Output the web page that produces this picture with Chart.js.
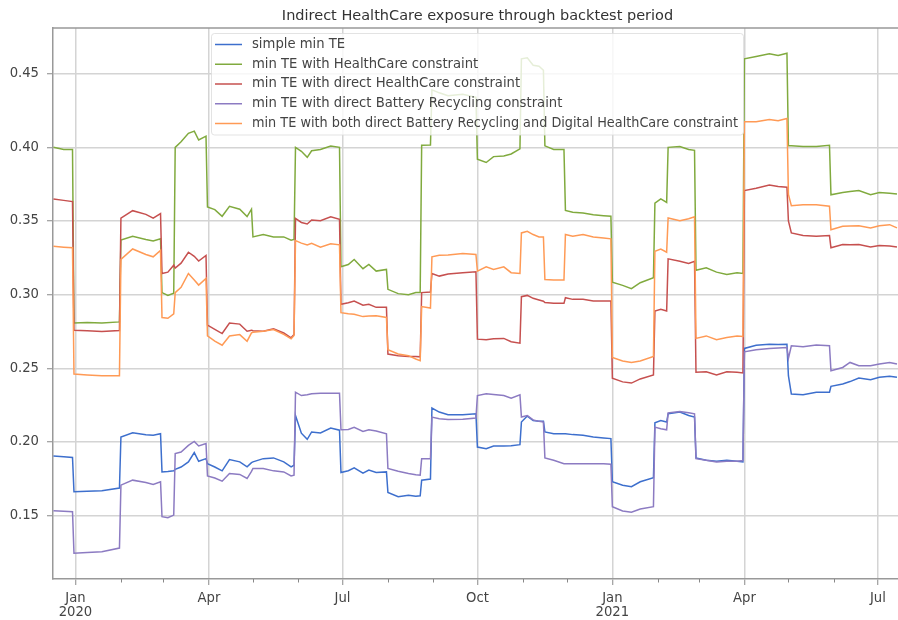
<!DOCTYPE html>
<html>
<head>
<meta charset="utf-8">
<script src="https://cdn.jsdelivr.net/npm/chart.js@4.4.1/dist/chart.umd.min.js"></script>
<style>
  html, body { margin: 0; padding: 0; background: #fff; }
  #wrap { width: 898px; height: 620px; }
</style>
</head>
<body>
<div id="wrap"><canvas id="exposure-chart" width="898" height="620"></canvas></div>
<script>
// days since 2020-01-01 (x values shared by all series)
const dayIndex = [
  -15, -8, -2,
  -1, 8, 18, 30,
  31, 39, 48, 53, 58,
  59, 63, 67,
  68, 72, 77, 81, 84, 89,
  90, 95, 100, 105, 112, 117, 120,
  121, 128, 135, 142, 147, 149,
  150, 154, 158, 161, 167, 174, 180,
  181, 186, 190, 196, 200, 205, 212,
  213, 220, 227, 232, 235,
  236, 242,
  243, 248, 254, 264, 273,
  274, 280, 285, 292, 297, 303,
  304, 308, 312, 316, 319,
  320, 326, 333,
  334, 339, 346, 353, 360, 365,
  366, 373, 379, 385, 394,
  395, 399, 403,
  404, 412, 418, 422,
  423, 430, 437, 444, 451, 455,
  456, 464, 473, 479, 485,
  486, 488, 496, 505, 514,
  515, 523, 528, 534, 542, 548, 555, 560
];

const simpleMinTE = [
  0.1905, 0.1900, 0.1895,
  0.1662, 0.1665, 0.1669, 0.1687,
  0.2034, 0.2063, 0.2049, 0.2045, 0.2056,
  0.1797, 0.1800, 0.1805,
  0.1814, 0.1830, 0.1865, 0.1928, 0.1869, 0.1887,
  0.1853, 0.1830, 0.1804, 0.1881, 0.1865, 0.1831, 0.1860,
  0.1865, 0.1887, 0.1892, 0.1865, 0.1831, 0.1842,
  0.2180, 0.2060, 0.2018, 0.2068, 0.2061, 0.2095, 0.2080,
  0.1793, 0.1805, 0.1824, 0.1788, 0.1810, 0.1793, 0.1797,
  0.1657, 0.1628, 0.1639, 0.1632, 0.1635,
  0.1741, 0.1748,
  0.2230, 0.2203, 0.2185, 0.2185, 0.2191,
  0.1966, 0.1955, 0.1973, 0.1973, 0.1975, 0.1982,
  0.2135, 0.2176, 0.2146, 0.2140, 0.2140,
  0.2068, 0.2056, 0.2056,
  0.2056, 0.2050, 0.2045, 0.2034, 0.2027, 0.2023,
  0.1730, 0.1707, 0.1696, 0.1730, 0.1757,
  0.2131, 0.2146, 0.2135,
  0.2191, 0.2203, 0.2180, 0.2169,
  0.1892, 0.1876, 0.1869, 0.1876, 0.1869, 0.1865,
  0.2635, 0.2657, 0.2664, 0.2662, 0.2664,
  0.2450, 0.2326, 0.2320, 0.2338, 0.2338,
  0.2378, 0.2394, 0.2410, 0.2434, 0.2423, 0.2439, 0.2446, 0.2439
];

const withHealthCare = [
  0.4000, 0.3985, 0.3985,
  0.2808, 0.2811, 0.2808, 0.2815,
  0.3370, 0.3397, 0.3375, 0.3365, 0.3380,
  0.3014, 0.2995, 0.3010,
  0.4000, 0.4038, 0.4095, 0.4110, 0.4050, 0.4076,
  0.3595, 0.3577, 0.3532, 0.3600, 0.3580, 0.3530, 0.3580,
  0.3392, 0.3408, 0.3392, 0.3392, 0.3370, 0.3375,
  0.4000, 0.3973, 0.3932, 0.3977, 0.3986, 0.4009, 0.4000,
  0.3189, 0.3205, 0.3239, 0.3176, 0.3205, 0.3160, 0.3171,
  0.3036, 0.3007, 0.2999, 0.3014, 0.3014,
  0.4014, 0.4016,
  0.4390, 0.4370, 0.4350, 0.4360, 0.4340,
  0.3919, 0.3897, 0.3937, 0.3941, 0.3955, 0.3990,
  0.4601, 0.4608, 0.4557, 0.4550, 0.4523,
  0.4010, 0.3986, 0.3986,
  0.3572, 0.3560, 0.3554, 0.3543, 0.3536, 0.3532,
  0.3085, 0.3063, 0.3041, 0.3081, 0.3115,
  0.3622, 0.3650, 0.3626,
  0.4000, 0.4005, 0.3986, 0.3980,
  0.3166, 0.3182, 0.3153, 0.3137, 0.3149, 0.3144,
  0.4601, 0.4617, 0.4635, 0.4624, 0.4639,
  0.4010, 0.4010, 0.4005, 0.4005, 0.4014,
  0.3678, 0.3693, 0.3700, 0.3707, 0.3678, 0.3693, 0.3689, 0.3684
];

const directHealthCare = [
  0.3649, 0.3640, 0.3632,
  0.2759, 0.2755, 0.2750, 0.2757,
  0.3520, 0.3570, 0.3545, 0.3520, 0.3550,
  0.3144, 0.3153, 0.3200,
  0.3180, 0.3214, 0.3288, 0.3260, 0.3228, 0.3266,
  0.2793, 0.2765, 0.2736, 0.2807, 0.2800, 0.2752, 0.2759,
  0.2755, 0.2752, 0.2768, 0.2740, 0.2707, 0.2730,
  0.3518, 0.3490, 0.3480, 0.3507, 0.3502, 0.3529, 0.3511,
  0.2935, 0.2945, 0.2957, 0.2928, 0.2935, 0.2914, 0.2914,
  0.2597, 0.2586, 0.2581, 0.2581, 0.2578,
  0.3014, 0.3018,
  0.3144, 0.3126, 0.3140, 0.3148, 0.3155,
  0.2698, 0.2694, 0.2700, 0.2703, 0.2680, 0.2671,
  0.2986, 0.2995, 0.2975, 0.2964, 0.2955,
  0.2946, 0.2941, 0.2941,
  0.2979, 0.2968, 0.2968, 0.2957, 0.2957, 0.2957,
  0.2433, 0.2408, 0.2400, 0.2428, 0.2455,
  0.2889, 0.2900, 0.2889,
  0.3243, 0.3227, 0.3212, 0.3227,
  0.2473, 0.2477, 0.2455, 0.2477, 0.2473, 0.2469,
  0.3707, 0.3722, 0.3745, 0.3734, 0.3729,
  0.3500, 0.3419, 0.3401, 0.3397, 0.3401,
  0.3318, 0.3340, 0.3338, 0.3340, 0.3324, 0.3333, 0.3330, 0.3324
];

const directBattery = [
  0.1534, 0.1530, 0.1527,
  0.1245, 0.1250, 0.1255, 0.1280,
  0.1707, 0.1741, 0.1725, 0.1712, 0.1730,
  0.1493, 0.1486, 0.1504,
  0.1921, 0.1932, 0.1977, 0.2004, 0.1973, 0.1990,
  0.1770, 0.1755, 0.1734, 0.1786, 0.1780, 0.1752, 0.1800,
  0.1820, 0.1820, 0.1804, 0.1797, 0.1770, 0.1775,
  0.2338, 0.2315, 0.2320, 0.2327, 0.2331, 0.2331, 0.2331,
  0.2083, 0.2085, 0.2100, 0.2072, 0.2083, 0.2075, 0.2056,
  0.1820, 0.1802, 0.1786, 0.1778, 0.1775,
  0.1887, 0.1887,
  0.2169, 0.2158, 0.2153, 0.2155, 0.2162,
  0.2315, 0.2327, 0.2322, 0.2315, 0.2297, 0.2320,
  0.2169, 0.2180, 0.2150, 0.2140, 0.2135,
  0.1892, 0.1876, 0.1853,
  0.1853, 0.1853, 0.1853, 0.1853, 0.1853, 0.1849,
  0.1561, 0.1532, 0.1523, 0.1545, 0.1561,
  0.2101, 0.2090, 0.2083,
  0.2198, 0.2207, 0.2198, 0.2191,
  0.1887, 0.1876, 0.1865, 0.1869, 0.1869, 0.1874,
  0.2612, 0.2626, 0.2635, 0.2638, 0.2641,
  0.2567, 0.2653, 0.2646, 0.2658, 0.2653,
  0.2484, 0.2506, 0.2540, 0.2517, 0.2517, 0.2529, 0.2540, 0.2529
];

const bothDirect = [
  0.3328, 0.3322, 0.3318,
  0.2461, 0.2455, 0.2450, 0.2450,
  0.3239, 0.3310, 0.3273, 0.3257, 0.3300,
  0.2845, 0.2840, 0.2870,
  0.3014, 0.3050, 0.3144, 0.3100, 0.3065, 0.3110,
  0.2720, 0.2685, 0.2657, 0.2720, 0.2729, 0.2684, 0.2741,
  0.2745, 0.2752, 0.2763, 0.2730, 0.2700, 0.2723,
  0.3367, 0.3350, 0.3338, 0.3349, 0.3322, 0.3345, 0.3338,
  0.2878, 0.2870, 0.2867, 0.2851, 0.2855, 0.2856, 0.2845,
  0.2626, 0.2597, 0.2586, 0.2563, 0.2552,
  0.2919, 0.2909,
  0.3257, 0.3268, 0.3270, 0.3279, 0.3273,
  0.3160, 0.3189, 0.3171, 0.3189, 0.3149, 0.3144,
  0.3419, 0.3430, 0.3408, 0.3392, 0.3392,
  0.3103, 0.3099, 0.3099,
  0.3408, 0.3397, 0.3408, 0.3392, 0.3385, 0.3379,
  0.2574, 0.2550, 0.2539, 0.2550, 0.2581,
  0.3295, 0.3310, 0.3288,
  0.3520, 0.3502, 0.3515, 0.3529,
  0.2703, 0.2720, 0.2694, 0.2709, 0.2720, 0.2716,
  0.4173, 0.4173, 0.4189, 0.4180, 0.4196,
  0.3680, 0.3604, 0.3611, 0.3611, 0.3600,
  0.3441, 0.3464, 0.3466, 0.3468, 0.3453, 0.3468, 0.3475, 0.3453
];

const seriesNames = [
  'simple min TE',
  'min TE with HealthCare constraint',
  'min TE with direct HealthCare constraint',
  'min TE with direct Battery Recycling constraint',
  'min TE with both direct Battery Recycling and Digital HealthCare constraint'
];
const seriesColors = ['#3d6fcd', '#80aa3e', '#c6504f', '#8c7bc2', '#ff9a55'];
const yTicks = [0.15, 0.20, 0.25, 0.30, 0.35, 0.40, 0.45];
const monthNames = ['Jan', 'Feb', 'Mar', 'Apr', 'May', 'Jun', 'Jul', 'Aug', 'Sep', 'Oct', 'Nov', 'Dec'];
const chartTitle = 'Indirect HealthCare exposure through backtest period';

const DAY = 86400000;
const BASE = Date.UTC(2020, 0, 1);
const dateOf = (d) => new Date(BASE + d * DAY);

Chart.defaults.font.family = 'DejaVu Sans';
Chart.defaults.font.size = 13;
Chart.defaults.color = '#444';

const allSeries = [simpleMinTE, withHealthCare, directHealthCare, directBattery, bothDirect];

const framePlugin = {
  id: 'frame',
  afterDatasetsDraw(chart) {
    const ctx = chart.ctx;
    const area = chart.chartArea;
    const xs = chart.scales.x;

    // minor month ticks
    ctx.save();
    ctx.strokeStyle = '#888';
    ctx.lineWidth = 1;
    xs.ticks.forEach(t => {
      if (t.major) return;
      const px = Math.round(xs.getPixelForValue(t.value)) + 0.5;
      ctx.beginPath();
      ctx.moveTo(px, area.bottom);
      ctx.lineTo(px, area.bottom + 3.5);
      ctx.stroke();
    });

    // top spine
    ctx.strokeStyle = '#999';
    ctx.lineWidth = 1.5;
    ctx.beginPath();
    ctx.moveTo(area.left, area.top);
    ctx.lineTo(area.right, area.top);
    ctx.stroke();

    // legend box
    const bx = 211.5, by = 33.5, bw = 532, bh = 101.5;
    ctx.fillStyle = 'rgba(255,255,255,0.8)';
    ctx.strokeStyle = 'rgba(220,220,220,0.8)';
    ctx.lineWidth = 1;
    ctx.beginPath();
    ctx.roundRect(bx, by, bw, bh, 3);
    ctx.fill();
    ctx.stroke();

    ctx.font = '13.2px "DejaVu Sans"';
    ctx.textBaseline = 'middle';
    ctx.textAlign = 'left';
    seriesNames.forEach((name, i) => {
      const yy = 44.5 + i * 19.75;
      ctx.strokeStyle = seriesColors[i];
      ctx.lineWidth = 1.5;
      ctx.beginPath();
      ctx.moveTo(215, yy);
      ctx.lineTo(242, yy);
      ctx.stroke();
      ctx.fillStyle = '#444';
      ctx.fillText(name, 252, yy, 486);
    });
    ctx.restore();
  },
  afterDraw(chart) {
    const ctx = chart.ctx;
    const area = chart.chartArea;
    ctx.save();
    ctx.font = '14.5px "DejaVu Sans"';
    ctx.fillStyle = '#333';
    ctx.textAlign = 'center';
    ctx.textBaseline = 'middle';
    ctx.fillText(chartTitle, (area.left + area.right) / 2 + 2, 16);
    ctx.restore();
  }
};

const chart = new Chart(document.getElementById('exposure-chart'), {
  type: 'line',
  data: {
    datasets: allSeries.map((vals, i) => ({
      label: seriesNames[i],
      data: dayIndex.map((d, j) => ({ x: d, y: vals[j] })),
      borderColor: seriesColors[i],
      backgroundColor: seriesColors[i],
      borderWidth: 1.5,
      pointRadius: 0,
      tension: 0,
      order: 5 - i
    }))
  },
  options: {
    responsive: false,
    animation: false,
    layout: { padding: { top: 28, right: 0, bottom: 0, left: 0 } },
    scales: {
      x: {
        type: 'linear',
        min: -15.3,
        max: 560.7,
        afterFit: (scale) => { scale.height = 41; },
        afterBuildTicks: (scale) => {
          const ticks = [];
          for (let y = 2019; y <= 2021; y++) {
            for (let m = 0; m < 12; m++) {
              const d = (Date.UTC(y, m, 1) - BASE) / DAY;
              if (d >= scale.min && d <= scale.max) ticks.push({ value: d, major: m % 3 === 0 });
            }
          }
          scale.ticks = ticks;
        },
        ticks: {
          autoSkip: false,
          maxRotation: 0,
          padding: 6,
          color: '#444',
          font: { size: 13.2, lineHeight: 1.08 },
          callback: (value) => {
            const dt = dateOf(value);
            const m = dt.getUTCMonth();
            if (m % 3 !== 0) return '';
            return m === 0 ? [monthNames[m], String(dt.getUTCFullYear())] : monthNames[m];
          }
        },
        grid: {
          color: (c) => (c.tick && c.tick.major) ? '#d4d4d4' : 'rgba(0,0,0,0)',
          lineWidth: 1.5,
          tickLength: 6,
          tickColor: (c) => (c.tick && c.tick.major) ? '#888' : 'rgba(0,0,0,0)',
          tickWidth: 1
        },
        border: { color: '#999', width: 1.5 }
      },
      y: {
        min: 0.107,
        max: 0.481,
        afterFit: (scale) => { scale.width = 53; },
        afterBuildTicks: (scale) => { scale.ticks = yTicks.map(v => ({ value: v })); },
        ticks: {
          padding: 8,
          color: '#444',
          font: { size: 13.2 },
          callback: (value) => value.toFixed(2)
        },
        grid: {
          color: '#d4d4d4',
          lineWidth: 1.5,
          tickLength: 6,
          tickColor: '#888',
          tickWidth: 1
        },
        border: { color: '#999', width: 1.5 }
      }
    },
    plugins: {
      legend: { display: false },
      title: { display: false },
      tooltip: { enabled: false }
    }
  },
  plugins: [framePlugin]
});
</script>
</body>
</html>
